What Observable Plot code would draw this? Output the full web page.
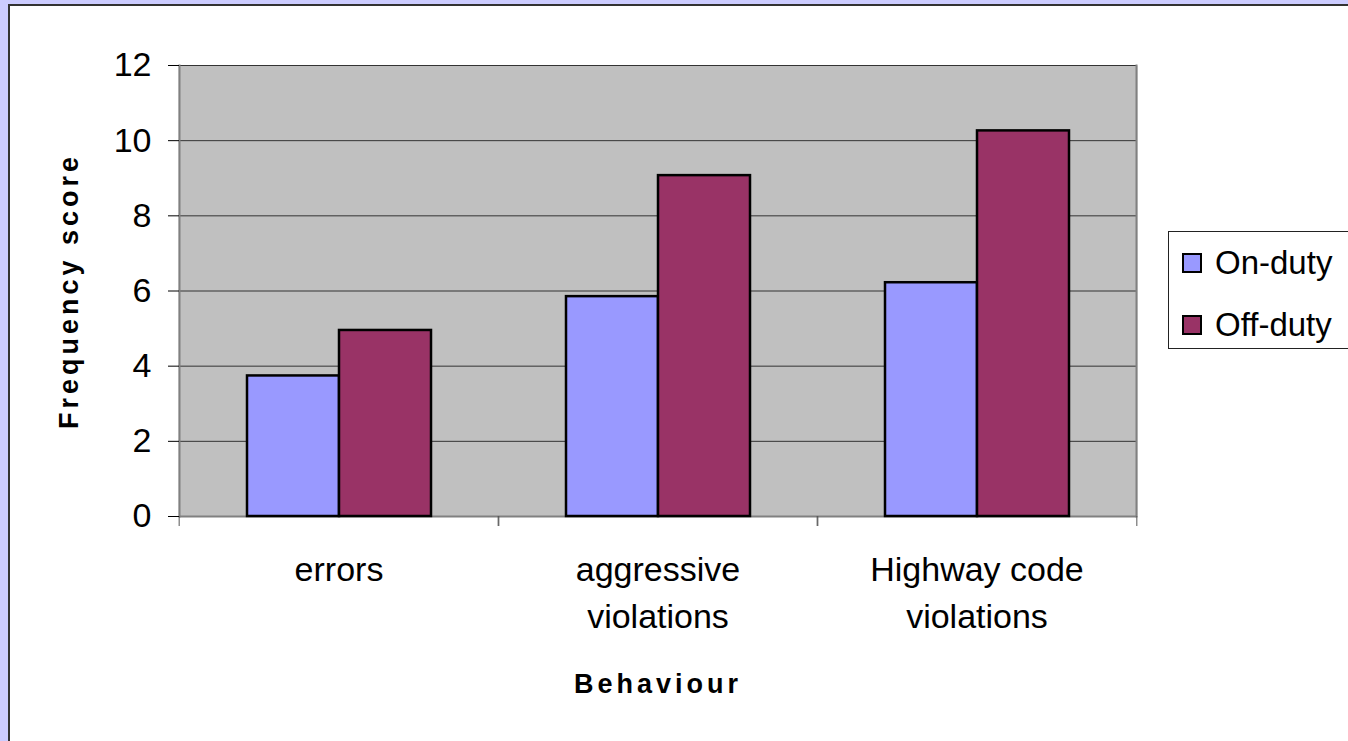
<!DOCTYPE html>
<html><head><meta charset="utf-8">
<script src="https://cdn.jsdelivr.net/npm/d3@7"></script>
<script src="https://cdn.jsdelivr.net/npm/@observablehq/plot@0.6"></script>
<style>
html,body{margin:0;padding:0;background:#ccccff;overflow:hidden;width:1348px;height:741px}
#chart{position:absolute;left:8px;top:4px;width:1400px;height:800px;background:#fff;border-left:2px solid #333;border-top:2px solid #333;font-family:"Liberation Sans",Arial,sans-serif}
#plot{position:absolute;left:0;top:0}
#legend{position:absolute;left:1158px;top:225px;width:240px;height:116px;border:1px solid #222;background:#fff}
.item{position:absolute;left:13px;height:40px;display:flex;align-items:center;font-size:33px;color:#000;white-space:nowrap}
.sw{width:16px;height:16px;border:2px solid #000;margin-right:13px}
g[aria-label="y-axis label"], g[aria-label="fx-axis label"]{font-size:27px;font-weight:bold;letter-spacing:4px}
</style></head>
<body>
<div id="chart"><div id="plot"></div><div id="legend"></div></div>
<script>
const categories = ["errors", "aggressive violations", "Highway code violations"];
const categoryLabels = ["errors", "aggressive\nviolations", "Highway code\nviolations"];
const series = ["On-duty", "Off-duty"];
const seriesColors = ["#9999ff", "#993366"];
const onDuty = [3.74, 5.85, 6.22];
const offDuty = [4.95, 9.07, 10.26];
const yTicks = [0, 2, 4, 6, 8, 10, 12];
const xTitle = "Behaviour";
const yTitle = "Frequency score";

const seriesValues = [onDuty, offDuty];
const data = categories.flatMap((c, i) => series.map((s, j) => ({category: c, series: s, value: seriesValues[j][i]})));

const W = 1300, H = 700;
const mL = 168, mR = W - 1127, mT = 59, mB = H - 510;
const facetStep = (W - mL - mR) / categories.length;

const chart = Plot.plot({
  width: W, height: H,
  marginLeft: mL, marginRight: mR, marginTop: mT, marginBottom: mB,
  style: {fontFamily: "'Liberation Sans', Arial, sans-serif", background: "transparent", color: "#000", overflow: "visible"},
  fx: {domain: categories, padding: 0},
  x: {domain: series, paddingInner: 0, paddingOuter: 0.725, axis: null},
  y: {domain: [0, 12]},
  color: {domain: series, range: seriesColors},
  marks: [
    Plot.frame({fill: "#c0c0c0", insetLeft: -1, insetRight: -1}),
    Plot.gridY(yTicks, {stroke: "#333", strokeOpacity: 1}),
    Plot.ruleY([0], {stroke: "#808080", strokeWidth: 2}),
    Plot.frame({anchor: "left", facetAnchor: "left", stroke: "#808080", strokeWidth: 2}),
    Plot.frame({anchor: "right", facetAnchor: "right", stroke: "#808080", strokeWidth: 2}),
    Plot.axisFx({anchor: "bottom", tickSize: 10, tickFormat: () => "", label: null, dx: -facetStep / 2, stroke: "#555"}),
    Plot.axisFx({anchor: "bottom", tickSize: 10, tickFormat: () => "", label: null, dx: facetStep / 2, stroke: "#555"}),
    Plot.barY(data, {fx: "category", x: "series", y: "value", fill: "series", stroke: "#000", strokeWidth: 2.5}),
    Plot.axisY(yTicks, {anchor: "left", tickSize: 11, tickPadding: 17, fontSize: 34, label: yTitle, labelArrow: "none", labelAnchor: "center", labelOffset: 121}),
    Plot.axisFx({anchor: "bottom", tickSize: 0, tickPadding: 32, fontSize: 34, lineHeight: 1.36,
      tickFormat: d => categoryLabels[categories.indexOf(d)], label: xTitle, labelArrow: "none", labelAnchor: "center", labelOffset: 176})
  ]
});
document.getElementById("plot").appendChild(chart);

const legend = d3.select("#legend");
series.forEach((s, i) => {
  const item = legend.append("div").attr("class", "item").style("top", (11 + i * 62) + "px");
  item.append("div").attr("class", "sw").style("background", seriesColors[i]);
  item.append("span").text(s);
});
</script>
</body></html>
